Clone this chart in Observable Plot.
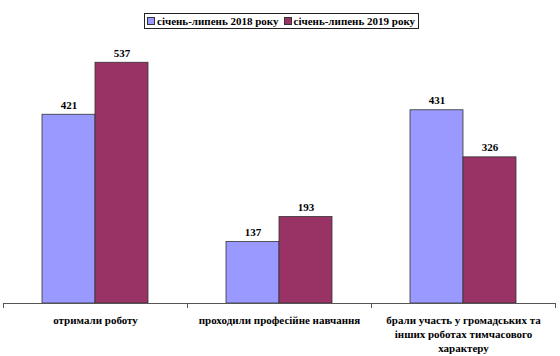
<!DOCTYPE html>
<html>
<head>
<meta charset="utf-8">
<script src="https://cdn.jsdelivr.net/npm/d3@7"></script>
<script src="https://cdn.jsdelivr.net/npm/@observablehq/plot@0.6"></script>
<style>
  html, body { margin: 0; padding: 0; background: #fff; }
  #wrap { width: 560px; height: 356px; position: relative; font-family: "Liberation Serif", "Times New Roman", serif; }
  #legend { height: 34px; position: relative; }
  #legend .box { position: absolute; left: 144px; top: 13px; height: 14px; border: 1px solid #222; padding-right: 3px;
    display: flex; align-items: center; font-weight: bold; font-size: 11px; color: #000; white-space: nowrap; }
  #legend .sw { display: inline-block; width: 6px; height: 6px; border: 1px solid #333; margin: 0 2px 0 2px; }
  #legend .item { display: flex; align-items: center; margin-right: 3px; }
  #legend .item:last-child { margin-right: 0; }
</style>
</head>
<body>
<div id="wrap">
  <div id="legend"></div>
  <div id="chart"></div>
</div>
<script>
const categories = ["отримали роботу", "проходили професійне навчання", "брали участь у громадських та інших роботах тимчасового характеру"];
const categoryLabels = ["отримали роботу", "проходили професійне навчання", "брали участь у громадських та\nінших роботах тимчасового\nхарактеру"];
const series = ["січень-липень 2018 року", "січень-липень 2019 року"];
const values2018 = [421, 137, 431];
const values2019 = [537, 193, 326];
const colors = ["#9999FF", "#993366"];

const table = [];
categories.forEach((c, i) => {
  table.push({cat: c, s: series[0], v: values2018[i]});
  table.push({cat: c, s: series[1], v: values2019[i]});
});
const labelOf = new Map(categories.map((c, i) => [c, categoryLabels[i]]));

// legend
const lg = document.getElementById("legend");
const box = document.createElement("div");
box.className = "box";
series.forEach((s, i) => {
  const it = document.createElement("span");
  it.className = "item";
  const sw = document.createElement("span");
  sw.className = "sw";
  sw.style.background = colors[i];
  it.appendChild(sw);
  it.appendChild(document.createTextNode(s));
  box.appendChild(it);
});
lg.appendChild(box);

const W = 560, H = 322, ML = 3, MR = 5;
const step = (W - ML - MR) / categories.length;

const chart = Plot.plot({
  width: W,
  height: H,
  marginLeft: ML,
  marginRight: MR,
  marginTop: 0,
  marginBottom: 53,
  style: {fontFamily: "'Liberation Serif', 'Times New Roman', serif", fontSize: "11px", fontWeight: "bold", color: "#000", background: "#fff", overflow: "visible"},
  fx: {domain: categories, padding: 0, label: null, axis: null},
  x: {domain: series, paddingInner: 0, paddingOuter: 0.72, axis: null},
  y: {domain: [0, 600], axis: null},
  color: {domain: series, range: colors},
  marks: [
    Plot.barY(table, {fx: "cat", x: "s", y: "v", fill: "s", stroke: "#333", strokeWidth: 0.8}),
    Plot.text(table, {fx: "cat", x: "s", y: "v", text: d => String(d.v), lineAnchor: "bottom", dy: -6, fill: "#000"}),
    Plot.ruleY([0], {stroke: "#555", strokeWidth: 1}),
    Plot.text(categories, {fx: d => d, text: d => labelOf.get(d), frameAnchor: "bottom", lineAnchor: "top", dy: 10, lineHeight: 1.3, fill: "#000"}),
    Plot.axisFx({anchor: "bottom", tickSize: 5, tickFormat: () => "", label: null, dx: -step / 2, stroke: "#555"}),
    Plot.axisFx(categories.slice(-1), {anchor: "bottom", tickSize: 5, tickFormat: () => "", label: null, dx: step / 2, stroke: "#555"})
  ]
});
document.getElementById("chart").appendChild(chart);
</script>
</body>
</html>
